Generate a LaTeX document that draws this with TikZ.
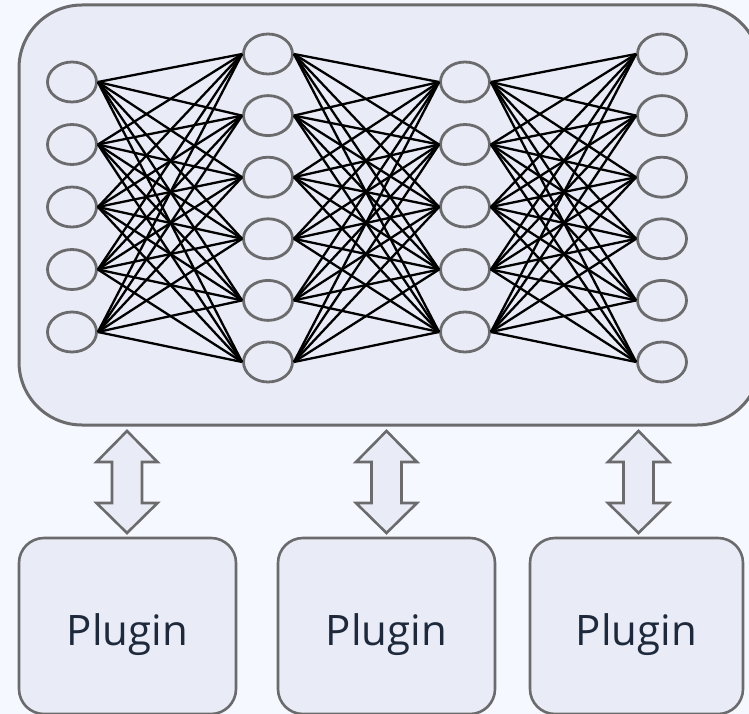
\documentclass[tikz,border=0pt]{standalone}
\usepackage{fontspec}
\setmainfont{Open Sans}
\usetikzlibrary{shapes.geometric}
\definecolor{bgc}{HTML}{F5F8FE}
\definecolor{boxfill}{HTML}{E9ECF6}
\definecolor{boxline}{HTML}{6B6B6D}
\definecolor{txt}{HTML}{1E2A3C}
\tikzset{
  neuron/.style={ellipse, draw=boxline, fill=boxfill, line width=2.8pt, minimum width=49pt, minimum height=40pt, inner sep=0pt},
  link/.style={black, line width=2.3pt},
  plugbox/.style={draw=boxline, fill=boxfill, line width=2.6pt, rounded corners=25pt, minimum height=176pt, inner sep=0pt, text=txt, text height=40pt, text depth=2pt, font=\fontsize{42}{46}\selectfont},
  bigarrow/.style={draw=boxline, fill=boxfill, line width=2.6pt, line join=miter}
}
\begin{document}
\begin{tikzpicture}[x=1pt,y=-1pt]
\fill[bgc] (0,0) rectangle (749,714);
\useasboundingbox (0,0) rectangle (749,714);
% main box
\draw[draw=boxline, fill=boxfill, line width=3pt, rounded corners=63pt] (19,5) rectangle (760,425);
% neurons
\foreach \i in {1,...,5} {
  \node[neuron] (a\i) at (72, {82+62.5*(\i-1)}) {};
  \node[neuron] (c\i) at (465, {82+62.5*(\i-1)}) {};
}
\foreach \i in {1,...,6} {
  \node[neuron] (b\i) at (268, {54+61.6*(\i-1)}) {};
  \node[neuron] (d\i) at (662, {54+61.6*(\i-1)}) {};
}
% links
\foreach \i in {1,...,5} {
  \foreach \j in {1,...,6} {
    \draw[link] (a\i.east) -- (b\j.west);
    \draw[link] (c\i.east) -- (d\j.west);
    \draw[link] (b\j.east) -- (c\i.west);
  }
}
% plugins
\node[plugbox, minimum width=217pt] (p1) at (127.5,626) {Plugin};
\node[plugbox, minimum width=217pt] (p2) at (386.5,626) {Plugin};
\node[plugbox, minimum width=213pt] (p3) at (636.5,626) {Plugin};
% double arrows
\foreach \cx/\n in {127/1, 386.5/2, 638.5/3} {
  \draw[bigarrow] (\cx,431) -- (\cx+30.5,462) -- (\cx+15,462) -- (\cx+15,503) -- (\cx+30.5,503) -- (\cx,533) -- (\cx-30.5,503) -- (\cx-15,503) -- (\cx-15,462) -- (\cx-30.5,462) -- cycle;
}
\end{tikzpicture}
\end{document}
